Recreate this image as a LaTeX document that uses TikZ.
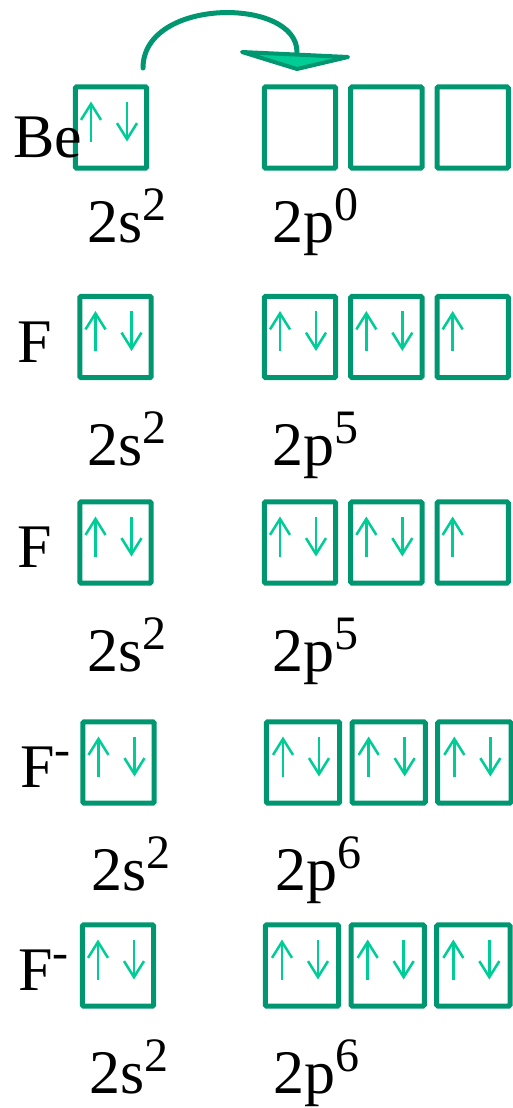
\documentclass[tikz,border=0pt]{standalone}
\usepackage{fontspec}
\setmainfont{Liberation Serif}
\usepackage{xcolor}
\usetikzlibrary{arrows.meta,positioning,calc}

\definecolor{boxgreen}{RGB}{0,150,112}
\definecolor{spingreen}{RGB}{0,204,150}
\newcommand{\orbsup}[1]{\raisebox{16pt}{\fontsize{36}{40}\selectfont #1}}

\begin{document}
\begin{tikzpicture}[x=0.75pt,y=-0.75pt,
    orb/.style={rectangle,draw=boxgreen,line width=3.75pt,rounded corners=1pt,minimum width=53.5pt,minimum height=61pt,inner sep=0pt},
    wideorb/.style={orb,minimum width=55pt},
    spin/.style={draw=spingreen,line width=1.9pt,-{Straight Barb[length=12pt,width=15pt]}},
    elem/.style={anchor=base west,inner sep=0pt,font=\fontsize{46.5}{50}\selectfont}]
    \useasboundingbox (0,0) rectangle (512,1108);

    % Be
    \node[orb] (be2s) at (111,127.5) {};
    \node[orb] (be2px) at (300,127.5) {};
    \node[orb,right=7.5pt of be2px] (be2py) {};
    \node[orb,right=7.5pt of be2py] (be2pz) {};
    \node[elem] (be) at (13,157) {Be};
    \node[elem] (be2slbl) at (87,242) {2s\orbsup{2}};
    \node[elem] (be2plbl) at (272,242) {2p\orbsup{0}};
    \draw[spin] ($(be2s)+(-20,14)$) -- ++(0,-40);
    \draw[spin] ($(be2s)+(16,-26)$) -- ++(0,40);

    % promotion arrow
    \coordinate (jstart) at (143,68);
    \coordinate (jend) at (297,52);
    \draw[boxgreen,line width=3.75pt,line cap=round] (jstart) .. controls (143,-3) and (297,-3) .. (jend);
    \filldraw[fill=spingreen,draw=boxgreen,line width=3pt,line join=round] (242,52) -- (348,57) -- (297,69) -- cycle;

    % F
    \node[orb] (fa2s) at (115.5,337) {};
    \node[orb] (fa2px) at (300,337) {};
    \node[orb,right=7.5pt of fa2px] (fa2py) {};
    \node[orb,right=7.5pt of fa2py] (fa2pz) {};
    \node[elem] (fa) at (17,362) {F};
    \node[elem] (fa2slbl) at (87,465) {2s\orbsup{2}};
    \node[elem] (fa2plbl) at (272,465) {2p\orbsup{5}};
    \draw[spin] ($(fa2s)+(-20,14)$) -- ++(0,-40);
    \draw[spin] ($(fa2s)+(16,-26)$) -- ++(0,40);
    \draw[spin] ($(fa2px)+(-20,14)$) -- ++(0,-40);
    \draw[spin] ($(fa2px)+(16,-26)$) -- ++(0,40);
    \draw[spin] ($(fa2py)+(-20,14)$) -- ++(0,-40);
    \draw[spin] ($(fa2py)+(16,-26)$) -- ++(0,40);
    \draw[spin] ($(fa2pz)+(-20,14)$) -- ++(0,-40);

    % F
    \node[orb] (fb2s) at (115.5,542.5) {};
    \node[orb] (fb2px) at (300,542.5) {};
    \node[orb,right=7.5pt of fb2px] (fb2py) {};
    \node[orb,right=7.5pt of fb2py] (fb2pz) {};
    \node[elem] (fb) at (17,567) {F};
    \node[elem] (fb2slbl) at (87,671) {2s\orbsup{2}};
    \node[elem] (fb2plbl) at (272,671) {2p\orbsup{5}};
    \draw[spin] ($(fb2s)+(-20,14)$) -- ++(0,-40);
    \draw[spin] ($(fb2s)+(16,-26)$) -- ++(0,40);
    \draw[spin] ($(fb2px)+(-20,14)$) -- ++(0,-40);
    \draw[spin] ($(fb2px)+(16,-26)$) -- ++(0,40);
    \draw[spin] ($(fb2py)+(-20,14)$) -- ++(0,-40);
    \draw[spin] ($(fb2py)+(16,-26)$) -- ++(0,40);
    \draw[spin] ($(fb2pz)+(-20,14)$) -- ++(0,-40);

    % F-
    \node[orb] (fc2s) at (118.5,762.5) {};
    \node[wideorb] (fc2px) at (303,762.5) {};
    \node[wideorb,right=5.5pt of fc2px] (fc2py) {};
    \node[wideorb,right=5.5pt of fc2py] (fc2pz) {};
    \node[elem] (fc) at (20,787) {F\orbsup{-}};
    \node[elem] (fc2slbl) at (91,890) {2s\orbsup{2}};
    \node[elem] (fc2plbl) at (275,890) {2p\orbsup{6}};
    \draw[spin] ($(fc2s)+(-20,14)$) -- ++(0,-40);
    \draw[spin] ($(fc2s)+(16,-26)$) -- ++(0,40);
    \draw[spin] ($(fc2px)+(-20,14)$) -- ++(0,-40);
    \draw[spin] ($(fc2px)+(16,-26)$) -- ++(0,40);
    \draw[spin] ($(fc2py)+(-20,14)$) -- ++(0,-40);
    \draw[spin] ($(fc2py)+(16,-26)$) -- ++(0,40);
    \draw[spin] ($(fc2pz)+(-20,14)$) -- ++(0,-40);
    \draw[spin] ($(fc2pz)+(16,-26)$) -- ++(0,40);

    % F-
    \node[orb] (fd2s) at (118,965.5) {};
    \node[wideorb] (fd2px) at (302,965.5) {};
    \node[wideorb,right=5.5pt of fd2px] (fd2py) {};
    \node[wideorb,right=5.5pt of fd2py] (fd2pz) {};
    \node[elem] (fd) at (18,990) {F\orbsup{-}};
    \node[elem] (fd2slbl) at (89,1093) {2s\orbsup{2}};
    \node[elem] (fd2plbl) at (273,1093) {2p\orbsup{6}};
    \draw[spin] ($(fd2s)+(-20,14)$) -- ++(0,-40);
    \draw[spin] ($(fd2s)+(16,-26)$) -- ++(0,40);
    \draw[spin] ($(fd2px)+(-20,14)$) -- ++(0,-40);
    \draw[spin] ($(fd2px)+(16,-26)$) -- ++(0,40);
    \draw[spin] ($(fd2py)+(-20,14)$) -- ++(0,-40);
    \draw[spin] ($(fd2py)+(16,-26)$) -- ++(0,40);
    \draw[spin] ($(fd2pz)+(-20,14)$) -- ++(0,-40);
    \draw[spin] ($(fd2pz)+(16,-26)$) -- ++(0,40);
\end{tikzpicture}
\end{document}
